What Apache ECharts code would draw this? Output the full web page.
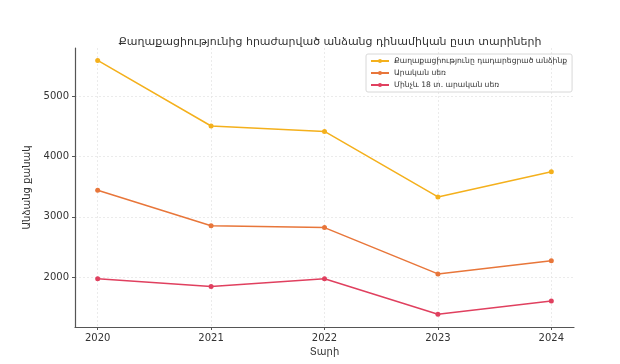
<!DOCTYPE html>
<html>
<head>
<meta charset="utf-8">
<script src="https://cdn.jsdelivr.net/npm/echarts@6/dist/echarts.min.js"></script>
<style>html,body{margin:0;padding:0;background:#fff}#c{width:620px;height:364px}</style>
</head>
<body>
<div id="c"></div>
<script>
const title = 'Քաղաքացիությունից հրաժարված անձանց դինամիկան ըստ տարիների';
const years = [2020, 2021, 2022, 2023, 2024];
const seriesNames = ['Քաղաքացիությունը դադարեցրած անձինք', 'Արական սեռ', 'Մինչև 18 տ. արական սեռ'];
const totalValues = [5600, 4510, 4420, 3330, 3750];
const maleValues = [3440, 2850, 2820, 2050, 2270];
const minorMaleValues = [1970, 1840, 1970, 1380, 1600];
const yTicks = [2000, 3000, 4000, 5000];
const xName = 'Տարի';
const yName = 'Անձանց քանակ';

const colors = ['#F4B01C', '#E8763A', '#E0405F'];
const font = 'DejaVu Sans';
const chart = echarts.init(document.getElementById('c'));
const seriesData = [totalValues, maleValues, minorMaleValues];
chart.setOption({
  animation: false,
  textStyle: { fontFamily: font },
  title: {
    text: title, left: 325, textAlign: 'center', top: 32,
    textStyle: { fontFamily: font, fontSize: 11, fontWeight: 'normal', color: '#333' }
  },
  legend: {
    orient: 'vertical', left: 366, top: 54,
    padding: [3, 5, 3, 4],
    itemWidth: 18, itemHeight: 5, itemGap: 4,
    borderColor: '#d8d8d8', borderWidth: 1, borderRadius: 2,
    textStyle: { fontFamily: font, fontSize: 7.6, color: '#333' },
    data: seriesNames
  },
  grid: { left: 75, right: 46, top: 48, bottom: 37, containLabel: false },
  xAxis: {
    type: 'value', min: 2019.8, max: 2024.2, interval: 1,
    name: xName, nameLocation: 'middle', nameGap: 15,
    nameTextStyle: { fontFamily: font, fontSize: 10, color: '#333' },
    axisLine: { lineStyle: { color: '#555', width: 1.2 } },
    axisTick: { show: true, length: 3, lineStyle: { color: '#555' }, customValues: years },
    axisLabel: { fontFamily: font, fontSize: 10, color: '#333', margin: 6, customValues: years, formatter: v => String(v) },
    splitLine: { show: true, lineStyle: { color: '#e6e6e6', type: [2, 2], width: 0.8 } }
  },
  yAxis: {
    type: 'value', min: 1167, max: 5807, interval: 1000,
    name: yName, nameLocation: 'middle', nameGap: 37, nameRotate: 90,
    nameTextStyle: { fontFamily: font, fontSize: 10, color: '#333' },
    axisLine: { show: true, lineStyle: { color: '#555', width: 1.2 } },
    axisTick: { show: true, length: 3, lineStyle: { color: '#555' }, customValues: yTicks },
    axisLabel: { fontFamily: font, fontSize: 10, color: '#333', margin: 6, customValues: yTicks, formatter: v => String(v) },
    splitLine: { show: true, lineStyle: { color: '#e6e6e6', type: [2, 2], width: 0.8 } }
  },
  series: seriesNames.map((n, i) => ({
    name: n, type: 'line',
    data: years.map((y, j) => [y, seriesData[i][j]]),
    symbol: 'circle', symbolSize: 5,
    lineStyle: { color: colors[i], width: 1.5 },
    itemStyle: { color: colors[i] }
  }))
});
</script>
</body>
</html>
